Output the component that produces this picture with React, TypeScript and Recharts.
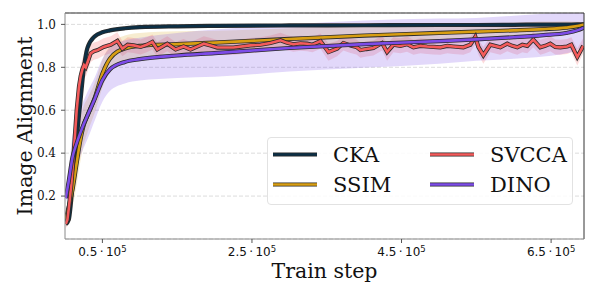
import React from 'react';
import { ComposedChart, Line, Area, XAxis, YAxis, CartesianGrid, Legend, ReferenceLine } from 'recharts';

// ---- data ----
const steps = [1000, 5000, 10000, 15000, 20000, 25000, 30000, 40000, 50000, 60000, 80000, 100000, 150000, 200000, 300000, 400000, 500000, 550000, 600000, 640000, 670000, 685000, 694000];
const ckaMean = [0.07, 0.09, 0.25, 0.45, 0.62, 0.79, 0.89, 0.945, 0.963, 0.972, 0.982, 0.987, 0.991, 0.993, 0.995, 0.996, 0.997, 0.997, 0.998, 0.999, 0.999, 1.0, 1.0];
const ckaStd = [0.01, 0.02, 0.03, 0.03, 0.03, 0.025, 0.02, 0.01, 0.008, 0.006, 0.005, 0.004, 0.004, 0.003, 0.003, 0.003, 0.003, 0.003, 0.003, 0.003, 0.003, 0.003, 0.003];
const ssimMean = [0.09, 0.15, 0.23, 0.34, 0.45, 0.53, 0.575, 0.66, 0.77, 0.84, 0.888, 0.9, 0.908, 0.915, 0.932, 0.948, 0.96, 0.966, 0.972, 0.978, 0.985, 0.992, 1.0];
const ssimStd = [0.02, 0.05, 0.08, 0.1, 0.1, 0.09, 0.08, 0.07, 0.065, 0.06, 0.06, 0.06, 0.06, 0.055, 0.05, 0.045, 0.04, 0.04, 0.035, 0.035, 0.03, 0.02, 0.01];
const dinoMean = [0.19, 0.27, 0.38, 0.44, 0.49, 0.535, 0.575, 0.655, 0.74, 0.79, 0.825, 0.838, 0.855, 0.866, 0.89, 0.908, 0.922, 0.93, 0.94, 0.95, 0.96, 0.972, 0.985];
const dinoStd = [0.02, 0.06, 0.1, 0.11, 0.11, 0.11, 0.11, 0.1, 0.1, 0.1, 0.1, 0.1, 0.105, 0.11, 0.11, 0.11, 0.105, 0.1, 0.1, 0.1, 0.095, 0.09, 0.08];

const svccaSteps = [1000, 3200, 5300, 8600, 11200, 13600, 15600, 18700, 21000, 23200, 25400, 27700, 30300, 34300, 38700, 43700, 51700, 61100, 70000, 76700, 83800, 91800, 101100, 109200, 116800, 123400, 131900, 136800, 147900, 158600, 167900, 176000, 185700, 194700, 203600, 225400, 248100, 261500, 274800, 288200, 296200, 305500, 314900, 323800, 330900, 341600, 352300, 363900, 372300, 381700, 389700, 395100, 403100, 412400, 424000, 430700, 439100, 448500, 457400, 465900, 475200, 484200, 492600, 501900, 511300, 519300, 532700, 542000, 548700, 552700, 559400, 568700, 582100, 591400, 598100, 604800, 611500, 618200, 626200, 635500, 642200, 648900, 655600, 662300, 671600, 677000, 685000, 693000];
const svccaMean = [0.07, 0.09, 0.15, 0.26, 0.38, 0.5, 0.6, 0.71, 0.76, 0.79, 0.81, 0.8, 0.825, 0.865, 0.875, 0.88, 0.895, 0.905, 0.923, 0.887, 0.905, 0.902, 0.895, 0.905, 0.918, 0.883, 0.9, 0.91, 0.883, 0.897, 0.883, 0.895, 0.91, 0.902, 0.892, 0.892, 0.902, 0.905, 0.913, 0.926, 0.915, 0.907, 0.912, 0.91, 0.905, 0.922, 0.871, 0.887, 0.913, 0.902, 0.895, 0.88, 0.885, 0.89, 0.913, 0.871, 0.905, 0.9, 0.908, 0.893, 0.9, 0.897, 0.895, 0.893, 0.9, 0.897, 0.893, 0.905, 0.942, 0.895, 0.856, 0.905, 0.893, 0.91, 0.9, 0.893, 0.905, 0.9, 0.929, 0.893, 0.9, 0.91, 0.895, 0.893, 0.897, 0.905, 0.848, 0.9];
const svccaStd = [0.02, 0.03, 0.04, 0.05, 0.05, 0.05, 0.05, 0.05, 0.05, 0.05, 0.045, 0.045, 0.045, 0.04, 0.04, 0.04, 0.04, 0.04, 0.04, 0.035, 0.035, 0.035, 0.035, 0.035, 0.035, 0.035, 0.035, 0.035, 0.035, 0.035, 0.035, 0.035, 0.035, 0.035, 0.035, 0.035, 0.035, 0.035, 0.035, 0.035, 0.035, 0.035, 0.035, 0.035, 0.035, 0.035, 0.04, 0.035, 0.035, 0.035, 0.035, 0.035, 0.035, 0.035, 0.035, 0.04, 0.035, 0.035, 0.035, 0.035, 0.035, 0.035, 0.035, 0.035, 0.035, 0.035, 0.035, 0.035, 0.035, 0.035, 0.04, 0.035, 0.035, 0.035, 0.035, 0.035, 0.035, 0.035, 0.035, 0.035, 0.035, 0.035, 0.035, 0.035, 0.035, 0.035, 0.04, 0.035];

const xTicks = [50000, 250000, 450000, 650000];
const xTickMantissa = ['0.5', '2.5', '4.5', '6.5'];
const xTickExp = '5';
const yTicks = [0.2, 0.4, 0.6, 0.8, 1.0];
const X_MAX = 694000;
const Y_MAX = 1.053;

const COLORS = { CKA: '#0c2f45', SSIM: '#d89e12', SVCCA: '#f45b5b', DINO: '#7d4ce8' };
const OUTLINE = '#2b2b2b';
const SERIF = '"DejaVu Serif", serif';

const mk = (xs: number[], m: number[], s: number[]) =>
  xs.map((step, i) => ({ step, mean: m[i], band: [m[i] - s[i], m[i] + s[i]] }));

const ckaRows = mk(steps, ckaMean, ckaStd);
const ssimRows = mk(steps, ssimMean, ssimStd);
const dinoRows = mk(steps, dinoMean, dinoStd);
const svccaRows = mk(svccaSteps, svccaMean, svccaStd);

const series = [
  { name: 'CKA', rows: ckaRows, color: COLORS.CKA, curve: 'monotone', bandOpacity: 0.15 },
  { name: 'SSIM', rows: ssimRows, color: COLORS.SSIM, curve: 'monotone', bandOpacity: 0.2 },
  { name: 'SVCCA', rows: svccaRows, color: COLORS.SVCCA, curve: 'linear', bandOpacity: 0.22 },
  { name: 'DINO', rows: dinoRows, color: COLORS.DINO, curve: 'monotone', bandOpacity: 0.22 },
];

const legendLayout = [
  { name: 'CKA', col: 0, row: 0 },
  { name: 'SSIM', col: 0, row: 1 },
  { name: 'SVCCA', col: 1, row: 0 },
  { name: 'DINO', col: 1, row: 1 },
];

const XTick = (props: any) => {
  const { x, y, payload } = props;
  const idx = xTicks.indexOf(payload.value);
  return (
    <text x={x} y={y + 11} textAnchor="middle" fontFamily='"DejaVu Sans", sans-serif' fontSize={12} fill="#111">
      {xTickMantissa[idx]}{'\u2009·\u2009'}10<tspan dy={-4.5} fontSize={8.5}>{xTickExp}</tspan>
    </text>
  );
};

const YTick = (props: any) => {
  const { x, y, payload } = props;
  return (
    <text x={x} y={y + 4.3} textAnchor="end" fontFamily={SERIF} fontSize={12} fill="#111">
      {Number(payload.value).toFixed(1)}
    </text>
  );
};

const LegendBox = () => (
  <div
    style={{
      width: 306,
      height: 68,
      boxSizing: 'border-box',
      border: '1px solid #e2e2e2',
      borderRadius: 4,
      background: 'rgba(255,255,255,0.85)',
    }}
  >
    <svg width={304} height={66} style={{ display: 'block' }}>
      {legendLayout.map((it) => {
        const s = series.find((q) => q.name === it.name)!;
        const x0 = it.col === 0 ? 5 : 162;
        const yc = it.row === 0 ? 16.5 : 46.5;
        return (
          <g key={it.name}>
            <line x1={x0} x2={x0 + 44} y1={yc} y2={yc} stroke={OUTLINE} strokeWidth={4} />
            <line x1={x0} x2={x0 + 44} y1={yc} y2={yc} stroke={s.color} strokeWidth={2.6} />
            <text x={x0 + 60} y={yc + 7.7} fontFamily={SERIF} fontSize={21} fill="#111">
              {it.name}
            </text>
          </g>
        );
      })}
    </svg>
  </div>
);

export default function App() {
  return (
    <div style={{ position: 'absolute', left: 0, top: 0, width: 598, height: 299, background: '#fff' }}>
      <ComposedChart width={598} height={299} margin={{ top: 13, right: 14, left: 0, bottom: 0 }}>
        <CartesianGrid vertical={false} stroke="#dcdcdc" strokeDasharray="4 2" />
        <XAxis
          type="number"
          dataKey="step"
          domain={[0, X_MAX]}
          ticks={xTicks}
          tick={<XTick />}
          tickSize={4}
          height={60}
          axisLine={{ stroke: '#8a8a8a' }}
          tickLine={{ stroke: '#555' }}
          allowDataOverflow
          label={{ value: 'Train step', position: 'center', dy: 2, style: { fontFamily: SERIF, fontSize: 20.5, fill: '#111' } }}
        />
        <YAxis
          type="number"
          domain={[0, Y_MAX]}
          ticks={yTicks}
          width={65}
          tickSize={4}
          tickMargin={5}
          allowDataOverflow
          axisLine={{ stroke: '#8a8a8a' }}
          tickLine={{ stroke: '#555' }}
          tick={<YTick />}
          label={{ value: 'Image Alignment', angle: -90, position: 'center', dx: -8, style: { fontFamily: SERIF, fontSize: 20.5, fill: '#111', textAnchor: 'middle' } }}
        />
        {series.map((s) => (
          <Area
            key={'band-' + s.name}
            data={s.rows}
            dataKey="band"
            type={s.curve as any}
            stroke="none"
            fill={s.color}
            fillOpacity={s.bandOpacity}
            isAnimationActive={false}
            dot={false}
            activeDot={false}
          />
        ))}
        {series.flatMap((s) => [
          <Line
            key={'outline-' + s.name}
            data={s.rows}
            dataKey="mean"
            type={s.curve as any}
            stroke={OUTLINE}
            strokeWidth={4.2}
            dot={false}
            activeDot={false}
            isAnimationActive={false}
            legendType="none"
          />,
          <Line
            key={'line-' + s.name}
            data={s.rows}
            dataKey="mean"
            name={s.name}
            type={s.curve as any}
            stroke={s.color}
            strokeWidth={2.6}
            dot={false}
            activeDot={false}
            isAnimationActive={false}
          />,
        ])}
        <ReferenceLine y={Y_MAX} stroke="#333" strokeWidth={1} />
        <ReferenceLine x={X_MAX} stroke="#333" strokeWidth={1} />
        <Legend
          layout="vertical"
          align="center"
          verticalAlign="middle"
          wrapperStyle={{ position: 'absolute', left: 267, top: 137, width: 306, height: 68 }}
          content={() => <LegendBox />}
        />
      </ComposedChart>
    </div>
  );
}
